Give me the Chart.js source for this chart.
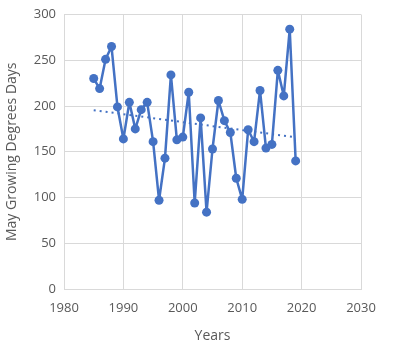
<!DOCTYPE html>
<html>
<head>
<meta charset="utf-8">
<script src="https://cdn.jsdelivr.net/npm/chart.js@4"></script>
<style>
  html, body { margin: 0; padding: 0; background: #fff; }
  #wrap { width: 401px; height: 348px; }
</style>
</head>
<body>
<div id="wrap"><canvas id="grafico" width="401" height="348"></canvas></div>
<script>
const years = [1985, 1986, 1987, 1988, 1989, 1990, 1991, 1992, 1993, 1994,
  1995, 1996, 1997, 1998, 1999, 2000, 2001, 2002, 2003, 2004,
  2005, 2006, 2007, 2008, 2009, 2010, 2011, 2012, 2013, 2014,
  2015, 2016, 2017, 2018, 2019]
const gdd = [230, 219, 251, 265, 199, 164, 204, 175, 196, 204,
  161, 97, 143, 234, 163, 166, 215, 94, 187, 84,
  153, 206, 184, 171, 121, 98, 174, 161, 217, 154,
  158, 239, 211, 284, 140]
const xTicks = [1980, 1990, 2000, 2010, 2020, 2030]
const yTicks = [0, 50, 100, 150, 200, 250, 300]

const cor = '#4472C4'
const cinza = '#595959'

// linear trend (least squares) over the series
const n = years.length
const mx = years.reduce((a, b) => a + b, 0) / n
const my = gdd.reduce((a, b) => a + b, 0) / n
let sxy = 0, sxx = 0
years.forEach((x, i) => {
  sxy += (x - mx) * (gdd[i] - my)
  sxx += (x - mx) * (x - mx)
})
const slope = sxy / sxx
const trend = [years[0], years[n - 1]].map(x => ({ x: x, y: my + slope * (x - mx) }))

const pontos = years.map((x, i) => ({ x: x, y: gdd[i] }))

const grafico = document.getElementById('grafico').getContext('2d')

new Chart(grafico, {
  type: 'line',
  data: {
    datasets: [{
      data: pontos,
      borderColor: cor,
      backgroundColor: cor,
      borderWidth: 2.5,
      borderJoinStyle: 'round',
      pointRadius: 4.5,
      pointBorderWidth: 0,
      tension: 0
    }, {
      data: trend,
      borderColor: cor,
      borderWidth: 2,
      borderDash: [2, 4],
      pointRadius: 0
    }]
  },
  options: {
    responsive: false,
    animation: false,
    layout: { padding: { top: 12, right: 40, left: 0, bottom: 0 } },
    plugins: { legend: { display: false }, tooltip: { enabled: false } },
    scales: {
      x: {
        type: 'linear',
        min: 1980,
        max: 2030,
        afterBuildTicks: s => { s.ticks = xTicks.map(v => ({ value: v })) },
        afterFit: s => { s.height = 59 },
        grid: { color: '#d9d9d9', lineWidth: 1, drawTicks: false },
        border: { color: '#d9d9d9' },
        ticks: {
          color: cinza,
          font: { family: 'Open Sans', size: 13 },
          padding: 11,
          maxRotation: 0,
          callback: v => String(v)
        },
        title: {
          display: true,
          text: 'Years',
          color: cinza,
          font: { family: 'Open Sans', size: 14 },
          padding: { top: 6 }
        }
      },
      y: {
        min: 0,
        max: 300,
        afterBuildTicks: s => { s.ticks = yTicks.map(v => ({ value: v })) },
        afterFit: s => { s.width = 64 },
        grid: { color: '#d9d9d9', lineWidth: 1, drawTicks: false },
        border: { color: '#d9d9d9' },
        ticks: {
          color: cinza,
          font: { family: 'Open Sans', size: 13, lineHeight: 1 },
          padding: 8
        },
        title: {
          display: true,
          text: 'May Growing Degrees Days',
          color: cinza,
          font: { family: 'Open Sans', size: 14 },
          padding: { bottom: 4 }
        }
      }
    }
  }
})
</script>
</body>
</html>
